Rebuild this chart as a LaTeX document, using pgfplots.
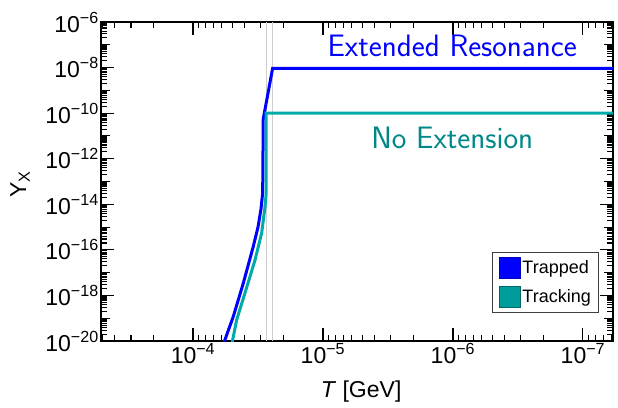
\documentclass[border=0pt]{standalone}
\usepackage{fontspec}
\setmainfont{Liberation Sans}
\usepackage{pgfplots}
\pgfplotsset{compat=1.18}
\definecolor{trapblue}{RGB}{0,0,255}
\definecolor{trackteal}{RGB}{0,170,170}
\definecolor{textteal}{RGB}{0,135,135}
\definecolor{vline}{RGB}{205,205,205}
\newcommand{\ten}[1]{10\textsuperscript{−#1}}

\begin{document}
\begin{tikzpicture}
\useasboundingbox (-101bp,-67bp) rectangle (517bp,341bp);
\begin{axis}[
  at={(0,0)}, anchor=south west,
  scale only axis, width=512bp, height=319bp,
  xmode=log, ymode=log, x dir=reverse,
  xmin=5.87e-8, xmax=5.1e-4, ymin=1e-20, ymax=1e-6,
  clip mode=individual,
  xtick={1e-7,1e-6,1e-5,1e-4},
  xticklabels={\ten{7},\ten{6},\ten{5},\ten{4}},
  minor xtick={6e-8,7e-8,8e-8,9e-8,
    2e-7,3e-7,4e-7,5e-7,6e-7,7e-7,8e-7,9e-7,
    2e-6,3e-6,4e-6,5e-6,6e-6,7e-6,8e-6,9e-6,
    2e-5,3e-5,4e-5,5e-5,6e-5,7e-5,8e-5,9e-5,
    2e-4,3e-4,4e-4,5e-4},
  ytick={1e-20,1e-18,1e-16,1e-14,1e-12,1e-10,1e-8,1e-6},
  yticklabels={\ten{20},\ten{18},\ten{16},\ten{14},\ten{12},\ten{10},\ten{8},\ten{6}},
  extra y ticks={1e-19,1e-17,1e-15,1e-13,1e-11,1e-9,1e-7},
  extra y tick labels={},
  extra y tick style={major tick length=9bp},
  minor ytick={
    2e-20,3e-20,4e-20,5e-20,6e-20,7e-20,8e-20,9e-20,
    2e-19,3e-19,4e-19,5e-19,6e-19,7e-19,8e-19,9e-19,
    2e-18,3e-18,4e-18,5e-18,6e-18,7e-18,8e-18,9e-18,
    2e-17,3e-17,4e-17,5e-17,6e-17,7e-17,8e-17,9e-17,
    2e-16,3e-16,4e-16,5e-16,6e-16,7e-16,8e-16,9e-16,
    2e-15,3e-15,4e-15,5e-15,6e-15,7e-15,8e-15,9e-15,
    2e-14,3e-14,4e-14,5e-14,6e-14,7e-14,8e-14,9e-14,
    2e-13,3e-13,4e-13,5e-13,6e-13,7e-13,8e-13,9e-13,
    2e-12,3e-12,4e-12,5e-12,6e-12,7e-12,8e-12,9e-12,
    2e-11,3e-11,4e-11,5e-11,6e-11,7e-11,8e-11,9e-11,
    2e-10,3e-10,4e-10,5e-10,6e-10,7e-10,8e-10,9e-10,
    2e-9,3e-9,4e-9,5e-9,6e-9,7e-9,8e-9,9e-9,
    2e-8,3e-8,4e-8,5e-8,6e-8,7e-8,8e-8,9e-8,
    2e-7,3e-7,4e-7,5e-7,6e-7,7e-7,8e-7,9e-7},
  tick align=inside, xtick pos=both, ytick pos=both,
  major tick length=13bp, minor tick length=6bp,
  every tick/.style={black, line width=1.1bp},
  axis line style={line width=1.6bp},
  ticklabel style={font=\fontsize{23bp}{27bp}\selectfont, inner sep=2bp},
  xlabel={\textit{T} [GeV]},
  ylabel={Y\textsubscript{X}},
  label style={font=\fontsize{23bp}{27bp}\selectfont},
  xlabel style={at={(axis description cs:0.508,-0.16)}, anchor=center},
  ylabel style={at={(axis description cs:-0.158,0.49)}, anchor=center},
  legend style={at={(axis description cs:0.973,0.279)}, anchor=north east,
    draw=black!75, line width=0.8bp, font=\fontsize{18bp}{22bp}\selectfont,
    inner xsep=6bp, inner ysep=5bp, row sep=7bp},
  legend cell align=left,
  legend image code/.code={\draw[#1, line width=0.6bp] (0bp,-10.5bp) rectangle (21bp,10.5bp);},
]
\addplot[vline, line width=0.9bp, forget plot] coordinates {(2.74e-5,1e-20) (2.74e-5,1e-6)};
\addplot[vline, line width=0.9bp, forget plot] coordinates {(2.44e-5,1e-20) (2.44e-5,1e-6)};

\addplot[trapblue, line width=3bp, forget plot] coordinates {
  (6.43e-5,1.5e-21) (5.68e-5,1.12e-20) (4.90e-5,1.17e-19) (4.10e-5,3.47e-18)
  (3.44e-5,1.38e-16) (3.16e-5,1.0e-15) (3.00e-5,6.0e-15) (2.91e-5,3.16e-14)
  (2.88e-5,5.6e-11) (2.44e-5,9.3e-9) (1e-8,9.3e-9)};
\addplot[trackteal, line width=3bp, forget plot] coordinates {
  (5.31e-5,1.5e-21) (4.95e-5,1.12e-20) (4.61e-5,8.5e-20) (3.98e-5,1.29e-18)
  (3.33e-5,3.63e-17) (2.96e-5,5.6e-16) (2.79e-5,7.9e-15) (2.74e-5,2.6e-14)
  (2.74e-5,1e-10) (1e-8,1e-10)};

\addlegendimage{fill=trapblue, draw=trapblue!75!black}
\addlegendentry{Trapped}
\addlegendimage{fill=trackteal!92!black, draw=trackteal!60!black}
\addlegendentry{Tracking}

\node[anchor=base, text=trapblue, font=\sffamily\fontsize{31bp}{34bp}\selectfont]
  at (axis description cs:0.686,0.891) {Extended Resonance};
\node[anchor=base, text=textteal, font=\sffamily\fontsize{31bp}{34bp}\selectfont]
  at (axis description cs:0.686,0.605) {No Extension};
\end{axis}
\end{tikzpicture}
\end{document}
